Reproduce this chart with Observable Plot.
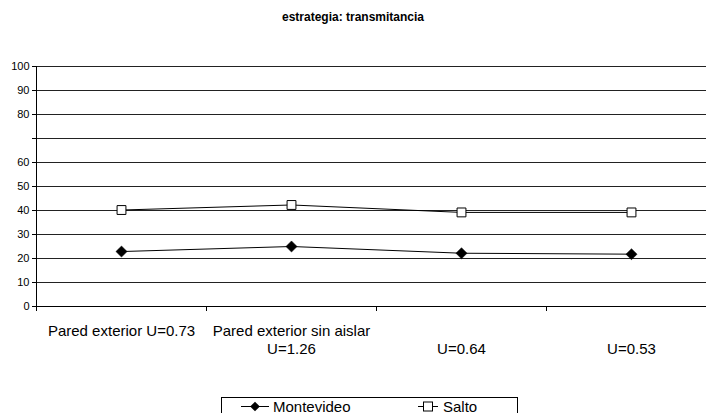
<!DOCTYPE html>
<html>
<head>
<meta charset="utf-8">
<script src="https://cdn.jsdelivr.net/npm/d3@7"></script>
<script src="https://cdn.jsdelivr.net/npm/@observablehq/plot@0.6"></script>
<style>
  html, body { margin: 0; padding: 0; background: #fff; }
  body { width: 706px; height: 413px; overflow: hidden; position: relative; font-family: "Liberation Sans", Arial, sans-serif; }
  #title { position: absolute; top: 10px; left: 0; width: 706px; text-align: center; font-weight: bold; font-size: 12px; line-height: 14px; color: #000; }
  #chart { position: absolute; top: 30px; left: 0; }
  #legend { position: absolute; left: 221px; top: 397px; width: 295px; height: 24px; border: 1px solid #000; background: #fff; }
  #legend svg { display: block; }
</style>
</head>
<body>
<div id="title">estrategia: transmitancia</div>
<div id="chart"></div>
<div id="legend"></div>
<script>
const categories = ["Pared exterior U=0.73", "Pared exterior sin aislar U=1.26", "U=0.64", "U=0.53"];
const labelLine1 = ["Pared exterior U=0.73", "Pared exterior sin aislar", "", ""];
const labelLine2 = ["", "U=1.26", "U=0.64", "U=0.53"];
const montevideo = [22.9, 25.0, 22.2, 21.8];
const salto = [40.2, 42.3, 39.2, 39.2];
const yTicks = [0, 10, 20, 30, 40, 50, 60, 70, 80, 90, 100];
const yTickLabels = ["0", "10", "20", "30", "40", "50", "60", "", "80", "90", "100"];
const seriesNames = ["Montevideo", "Salto"];

const rows = categories.map((c, i) => ({cat: c, pos: i + 0.5, base: 0, l1: labelLine1[i], l2: labelLine2[i], mv: montevideo[i], sa: salto[i]}));
const boundaries = d3.range(categories.length + 1).map(b => ({b, base: 0}));

const plot = Plot.plot({
  width: 706,
  height: 362,
  marginLeft: 36,
  marginRight: 0,
  marginTop: 36,
  marginBottom: 86,
  style: {fontFamily: "'Liberation Sans', Arial, sans-serif", background: "transparent", overflow: "visible"},
  x: {type: "linear", domain: [0, categories.length], range: [36, 716], axis: null},
  y: {type: "linear", domain: [0, 100], axis: null},
  marks: [
    Plot.ruleY(yTicks, {stroke: "#222", strokeWidth: 1}),
    Plot.axisY({ticks: yTicks, tickFormat: (d) => yTickLabels[yTicks.indexOf(d)], tickSize: 4, tickPadding: 3, fontSize: 11, stroke: "#000", label: null, color: "#000"}),
    Plot.ruleX([0], {stroke: "#000"}),
    Plot.ruleY([0], {stroke: "#000"}),
    Plot.ruleX(boundaries, {x: "b", y1: "base", y2: "base", insetBottom: -5, stroke: "#000", strokeWidth: 1}),
    Plot.line(rows, {x: "pos", y: "mv", stroke: "#000", strokeWidth: 1}),
    Plot.line(rows, {x: "pos", y: "sa", stroke: "#000", strokeWidth: 1}),
    Plot.dot(rows, {x: "pos", y: "mv", symbol: "diamond2", r: 5, fill: "#000", stroke: "#000", strokeWidth: 0.5}),
    Plot.dot(rows, {x: "pos", y: "sa", symbol: "square", r: 5, fill: "#fff", stroke: "#000", strokeWidth: 1}),
    Plot.text(rows, {x: "pos", y: "base", text: "l1", lineAnchor: "bottom", dy: 29, fontSize: 15, fill: "#000"}),
    Plot.text(rows, {x: "pos", y: "base", text: "l2", lineAnchor: "bottom", dy: 47, fontSize: 15, fill: "#000"})
  ]
});
document.getElementById("chart").appendChild(plot);

// legend
const lg = d3.select("#legend").append("svg").attr("width", 295).attr("height", 24)
  .style("font-family", "'Liberation Sans', Arial, sans-serif").style("font-size", "15px");
const items = [
  {name: seriesNames[0], x1: 19, x2: 47, tx: 51, sym: "diamond"},
  {name: seriesNames[1], x1: 196, x2: 216, tx: 221, sym: "square"}
];
items.forEach(it => {
  const cx = (it.x1 + it.x2) / 2;
  lg.append("line").attr("x1", it.x1).attr("x2", it.x2).attr("y1", 8.5).attr("y2", 8.5).attr("stroke", "#000");
  if (it.sym === "diamond") {
    lg.append("path").attr("d", d3.symbol(d3.symbolDiamond2, 60)()).attr("transform", `translate(${cx},8.5)`).attr("fill", "#000");
  } else {
    lg.append("rect").attr("x", cx - 4.5).attr("y", 4).attr("width", 9).attr("height", 9).attr("fill", "#fff").attr("stroke", "#000");
  }
  lg.append("text").attr("x", it.tx).attr("y", 13.5).text(it.name);
});
</script>
</body>
</html>
